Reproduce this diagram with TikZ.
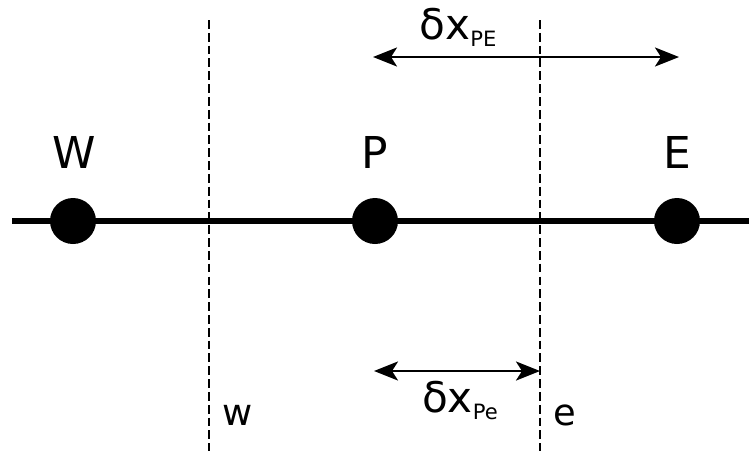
\documentclass[tikz,border=0pt]{standalone}
\usepackage{fontspec}
\setmainfont{DejaVu Sans}
\usepackage{tikz}
\usetikzlibrary{arrows.meta,positioning,calc}

\newcommand{\dxlabel}[1]{{\fontsize{24}{28}\selectfont δx}\raisebox{-0.15cm}{\fontsize{12}{14}\selectfont #1}}

\begin{document}
\begin{tikzpicture}[
            x=0.02cm, y=-0.02cm,
            every node/.style={inner sep=0pt},
            point/.style={circle, fill=black, minimum size=0.92cm},
            pointlabel/.style={anchor=base, font=\fontsize{25}{30}\selectfont},
            facelabel/.style={anchor=base, font=\fontsize{21}{24}\selectfont},
            face/.style={line width=1.6pt, dash pattern=on 5pt off 2.3pt},
            dist/.style={line width=1.5pt, {Stealth[length=0.48cm,width=0.38cm,inset=0.12cm]}-{Stealth[length=0.48cm,width=0.38cm,inset=0.12cm]}},
        ]
            \useasboundingbox (0,0) rectangle (749,451);
            % grid line
            \coordinate (left) at (12,221);
            \coordinate (right) at (749,221);
            \draw[line width=2.9pt] (left) -- (right);
            % control volume faces
            \coordinate (wtop) at (209,20);
            \coordinate (wbot) at (209,451);
            \coordinate (etop) at (540,20);
            \coordinate (ebot) at (540,451);
            \draw[face] (wtop) -- (wbot);
            \draw[face] (etop) -- (ebot);
            % grid points
            \node[point] (W) at (73,221) {};
            \node[point] (P) at (375,221) {};
            \node[point] (E) at (677,221) {};
            \node[pointlabel] (Wlab) at (74,168) {W};
            \node[pointlabel] (Plab) at (375,168) {P};
            \node[pointlabel] (Elab) at (677,168) {E};
            \node[facelabel] (wlab) at (238,425) {w};
            \node[facelabel] (elab) at (565,425) {e};
            % distances
            \coordinate (pe1) at (373,57);
            \coordinate (pe2) at (679,57);
            \draw[dist] (pe1) -- (pe2);
            \node[anchor=base] (dxPE) at (458,39) {\dxlabel{PE}};
            \coordinate (pf1) at (374,371);
            \coordinate (pf2) at (540,371);
            \draw[dist] (pf1) -- (pf2);
            \node[anchor=base] (dxPe) at (460,412) {\dxlabel{Pe}};
        \end{tikzpicture}
\end{document}
